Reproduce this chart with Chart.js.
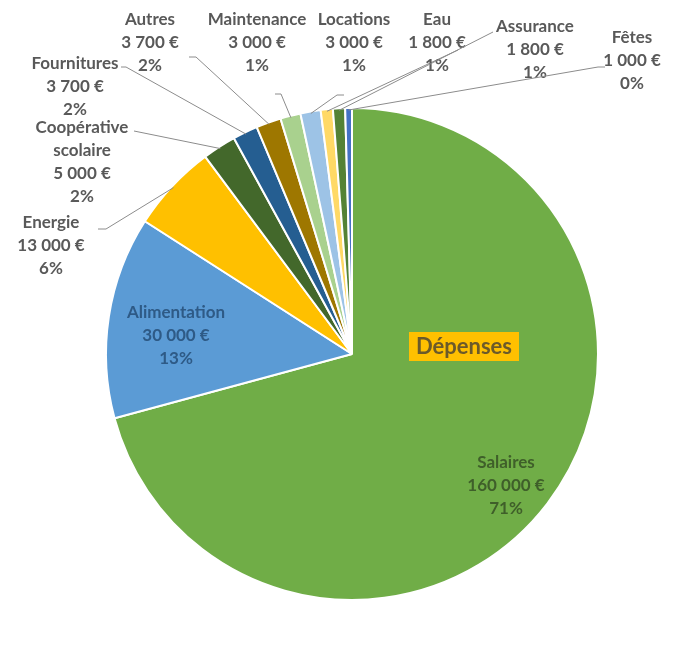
<!DOCTYPE html>
<html><head><meta charset="utf-8">
<script src="https://cdn.jsdelivr.net/npm/chart.js@4.4.1/dist/chart.umd.min.js"></script>
<style>html,body{margin:0;padding:0;background:#fff}#wrap{width:684px;height:650px;position:relative}</style>
</head><body><div id="wrap"><canvas id="c" width="684" height="650"></canvas></div>
<script>
const categories = ['Salaires','Alimentation','Energie','Coopérative scolaire','Fournitures','Autres','Maintenance','Locations','Eau','Assurance','Fêtes'];
const values = [160000,30000,13000,5000,3700,3700,3000,3000,1800,1800,1000];
const colors = ['#70AD47','#5B9BD5','#FFC000','#43682B','#255E91','#9E7700','#A9D18E','#9DC3E6','#FFD966','#548235','#4472C4'];
const titleText = 'Dépenses';

// layout only: label first-line centre and leader start point (+ optional elbow)
const labelLayout = [
  {x:506,y:463,inside:true},
  {x:176,y:313,inside:true},
  {x:51,y:223,lx:98,ly:229,hx:106},
  {x:82,y:128,lx:134,ly:131},
  {x:75,y:64,lx:121,ly:67,hx:126},
  {x:150,y:20,lx:189,ly:57,hx:196},
  {x:257,y:20,lx:275,ly:94,hx:281},
  {x:354,y:20,lx:344,ly:95,hx:337},
  {x:437,y:20,lx:458,ly:50},
  {x:535,y:27,lx:493,ly:32},
  {x:632,y:38,lx:605,ly:67,hx:598}
];

const total = values.reduce((a,b)=>a+b,0);
function fmt(v){return String(v).replace(/\B(?=(\d{3})+(?!\d))/g,' ')+' €';}

const labelPlugin = {
  id:'labels',
  afterDatasetsDraw(chart){
    const ctx = chart.ctx;
    const meta = chart.getDatasetMeta(0);
    ctx.save();
    ctx.font = 'bold 17px Lato, "Liberation Sans", sans-serif';
    ctx.textAlign='center'; ctx.textBaseline='middle';
    meta.data.forEach((arc,i)=>{
      const L = labelLayout[i];
      const lines = categories[i].split(' ');
      lines.push(fmt(values[i]));
      lines.push(Math.round(values[i]/total*100)+'%');
      if(!L.inside){
        const p = arc.getProps(['x','y','startAngle','endAngle','outerRadius'],true);
        const a = (p.startAngle+p.endAngle)/2;
        const ex = p.x+Math.cos(a)*(p.outerRadius-2), ey = p.y+Math.sin(a)*(p.outerRadius-2);
        ctx.strokeStyle='#8C8C8C'; ctx.lineWidth=1;
        ctx.beginPath(); ctx.moveTo(L.lx,L.ly);
        if(L.hx!==undefined) ctx.lineTo(L.hx,L.ly);
        ctx.lineTo(ex,ey); ctx.stroke();
      }
      ctx.fillStyle = L.inside ? '#3F5F2A' : '#595959';
      if(i===1) ctx.fillStyle='#2E5A86';
      lines.forEach((t,k)=>ctx.fillText(t,L.x,L.y+k*23));
    });
    // title
    ctx.font='bold 22px Lato, "Liberation Sans", sans-serif';
    ctx.fillStyle='#FFC000';
    ctx.fillRect(409,332,110,29);
    ctx.fillStyle='#6B5A2A';
    ctx.fillText(titleText,464,347);
    ctx.restore();
  }
};

new Chart(document.getElementById('c'),{
  type:'pie',
  data:{labels:categories,datasets:[{data:values,backgroundColor:colors,borderColor:'#ffffff',borderWidth:2}]},
  options:{
    responsive:false,animation:false,
    layout:{padding:{left:105,right:85,top:107,bottom:49}},
    plugins:{legend:{display:false},tooltip:{enabled:false}}
  },
  plugins:[labelPlugin]
});
</script></body></html>
